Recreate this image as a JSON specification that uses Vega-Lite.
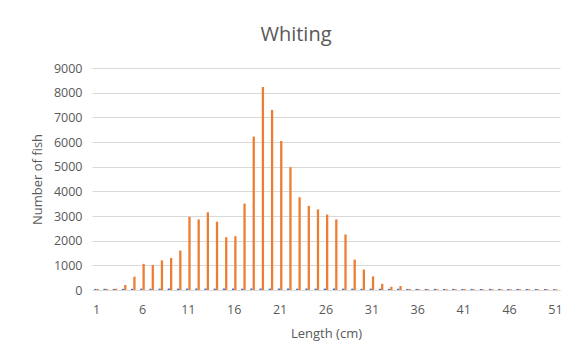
{
  "$schema": "https://vega.github.io/schema/vega-lite/v6.json",
  "width": 468,
  "height": 222,
  "autosize": {"type": "none"},
  "padding": {"left": 92, "top": 68, "right": 13, "bottom": 67},
  "background": "white",
  "title": {"text": "Whiting", "fontSize": 20, "font": "Open Sans", "fontWeight": "normal", "color": "#595959", "anchor": "middle", "dx": -30, "offset": 17},
  "config": {
    "view": {"stroke": null},
    "font": "Open Sans",
    "axis": {"labelFont": "Open Sans", "titleFont": "Open Sans", "labelColor": "#595959", "titleColor": "#595959", "labelFontSize": 12.5, "titleFontSize": 13, "titleFontWeight": "normal", "ticks": false}
  },
  "data": {
    "values": [
      {"len": 1, "s": "A", "n": 45}, {"len": 1, "s": "B", "n": 40},
      {"len": 2, "s": "A", "n": 50}, {"len": 2, "s": "B", "n": 40},
      {"len": 3, "s": "A", "n": 40}, {"len": 3, "s": "B", "n": 55},
      {"len": 4, "s": "A", "n": 45}, {"len": 4, "s": "B", "n": 200},
      {"len": 5, "s": "A", "n": 50}, {"len": 5, "s": "B", "n": 540},
      {"len": 6, "s": "A", "n": 55}, {"len": 6, "s": "B", "n": 1060},
      {"len": 7, "s": "A", "n": 50}, {"len": 7, "s": "B", "n": 1010},
      {"len": 8, "s": "A", "n": 55}, {"len": 8, "s": "B", "n": 1200},
      {"len": 9, "s": "A", "n": 60}, {"len": 9, "s": "B", "n": 1300},
      {"len": 10, "s": "A", "n": 55}, {"len": 10, "s": "B", "n": 1600},
      {"len": 11, "s": "A", "n": 60}, {"len": 11, "s": "B", "n": 2970},
      {"len": 12, "s": "A", "n": 60}, {"len": 12, "s": "B", "n": 2860},
      {"len": 13, "s": "A", "n": 60}, {"len": 13, "s": "B", "n": 3150},
      {"len": 14, "s": "A", "n": 55}, {"len": 14, "s": "B", "n": 2770},
      {"len": 15, "s": "A", "n": 60}, {"len": 15, "s": "B", "n": 2140},
      {"len": 16, "s": "A", "n": 60}, {"len": 16, "s": "B", "n": 2180},
      {"len": 17, "s": "A", "n": 55}, {"len": 17, "s": "B", "n": 3500},
      {"len": 18, "s": "A", "n": 60}, {"len": 18, "s": "B", "n": 6220},
      {"len": 19, "s": "A", "n": 60}, {"len": 19, "s": "B", "n": 8230},
      {"len": 20, "s": "A", "n": 55}, {"len": 20, "s": "B", "n": 7300},
      {"len": 21, "s": "A", "n": 60}, {"len": 21, "s": "B", "n": 6040},
      {"len": 22, "s": "A", "n": 60}, {"len": 22, "s": "B", "n": 4980},
      {"len": 23, "s": "A", "n": 55}, {"len": 23, "s": "B", "n": 3760},
      {"len": 24, "s": "A", "n": 60}, {"len": 24, "s": "B", "n": 3410},
      {"len": 25, "s": "A", "n": 55}, {"len": 25, "s": "B", "n": 3270},
      {"len": 26, "s": "A", "n": 55}, {"len": 26, "s": "B", "n": 3060},
      {"len": 27, "s": "A", "n": 60}, {"len": 27, "s": "B", "n": 2860},
      {"len": 28, "s": "A", "n": 55}, {"len": 28, "s": "B", "n": 2250},
      {"len": 29, "s": "A", "n": 55}, {"len": 29, "s": "B", "n": 1230},
      {"len": 30, "s": "A", "n": 50}, {"len": 30, "s": "B", "n": 830},
      {"len": 31, "s": "A", "n": 55}, {"len": 31, "s": "B", "n": 550},
      {"len": 32, "s": "A", "n": 50}, {"len": 32, "s": "B", "n": 250},
      {"len": 33, "s": "A", "n": 45}, {"len": 33, "s": "B", "n": 130},
      {"len": 34, "s": "A", "n": 50}, {"len": 34, "s": "B", "n": 160},
      {"len": 35, "s": "A", "n": 45}, {"len": 35, "s": "B", "n": 40},
      {"len": 36, "s": "A", "n": 45}, {"len": 36, "s": "B", "n": 35},
      {"len": 37, "s": "A", "n": 40}, {"len": 37, "s": "B", "n": 35},
      {"len": 38, "s": "A", "n": 45}, {"len": 38, "s": "B", "n": 30},
      {"len": 39, "s": "A", "n": 40}, {"len": 39, "s": "B", "n": 35},
      {"len": 40, "s": "A", "n": 45}, {"len": 40, "s": "B", "n": 30},
      {"len": 41, "s": "A", "n": 40}, {"len": 41, "s": "B", "n": 35},
      {"len": 42, "s": "A", "n": 45}, {"len": 42, "s": "B", "n": 30},
      {"len": 43, "s": "A", "n": 40}, {"len": 43, "s": "B", "n": 30},
      {"len": 44, "s": "A", "n": 45}, {"len": 44, "s": "B", "n": 35},
      {"len": 45, "s": "A", "n": 40}, {"len": 45, "s": "B", "n": 30},
      {"len": 46, "s": "A", "n": 40}, {"len": 46, "s": "B", "n": 30},
      {"len": 47, "s": "A", "n": 45}, {"len": 47, "s": "B", "n": 35},
      {"len": 48, "s": "A", "n": 40}, {"len": 48, "s": "B", "n": 30},
      {"len": 49, "s": "A", "n": 40}, {"len": 49, "s": "B", "n": 30},
      {"len": 50, "s": "A", "n": 40}, {"len": 50, "s": "B", "n": 30},
      {"len": 51, "s": "A", "n": 35}, {"len": 51, "s": "B", "n": 30}
    ]
  },
  "mark": {"type": "bar"},
  "encoding": {
    "x": {
      "field": "len", "type": "ordinal", "sort": "ascending",
      "scale": {"paddingInner": 0.5, "paddingOuter": 0.25},
      "axis": {"title": "Length (cm)", "labelAngle": 0, "values": [1, 6, 11, 16, 21, 26, 31, 36, 41, 46, 51], "domain": true, "domainColor": "#D9D9D9", "labelColor": "#595959", "titleColor": "#595959", "labelPadding": 13, "titlePadding": 12, "grid": false}
    },
    "xOffset": {"field": "s", "type": "nominal"},
    "y": {
      "field": "n", "type": "quantitative",
      "scale": {"domain": [0, 9000], "nice": false},
      "axis": {"title": "Number of fish", "values": [0, 1000, 2000, 3000, 4000, 5000, 6000, 7000, 8000, 9000], "format": "d", "domain": false, "gridColor": "#D9D9D9", "labelColor": "#595959", "titleColor": "#595959", "labelPadding": 10, "titlePadding": 9}
    },
    "color": {"field": "s", "type": "nominal", "scale": {"domain": ["A", "B"], "range": ["#4472C4", "#ED7D31"]}, "legend": null}
  }
}
